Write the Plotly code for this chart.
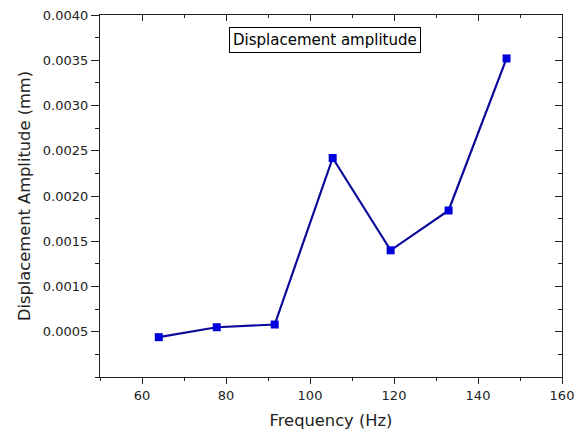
import plotly.graph_objects as go

frequency = [64.0, 77.8, 91.6, 105.4, 119.2, 133.0, 146.8]
amplitude = [0.00044, 0.00055, 0.00058, 0.00242, 0.00140, 0.00184, 0.00352]
x_ticks = [60, 80, 100, 120, 140, 160]
y_ticks = [0.0005, 0.0010, 0.0015, 0.0020, 0.0025, 0.0030, 0.0035, 0.0040]
y_tick_labels = [f"{v:.4f}" for v in y_ticks]
series_name = "Displacement amplitude"

fig = go.Figure()
fig.add_trace(go.Scatter(
    x=frequency, y=amplitude, mode="lines+markers", name=series_name,
    line=dict(color="#0a0a9a", width=2.2),
    marker=dict(symbol="square", size=8, color="#0000dd", line=dict(width=0)),
    showlegend=False,
))
# helper trace for mirrored (inside-tick) axes
fig.add_trace(go.Scatter(x=[frequency[0]], y=[amplitude[0]], xaxis="x2", yaxis="y2",
                         mode="markers", marker=dict(opacity=0), showlegend=False,
                         hoverinfo="skip"))

FONT = "DejaVu Sans, Verdana, sans-serif"
axis_font = dict(family=FONT, size=13, color="#222222")
title_font = dict(family=FONT, size=16.3, color="#222222")

fig.update_layout(
    width=574, height=429,
    margin=dict(l=92, r=20, t=7, b=60, autoexpand=False),
    paper_bgcolor="white", plot_bgcolor="white",
    xaxis=dict(range=[50, 160], tickvals=x_ticks, ticks="outside", ticklen=6,
               tickwidth=1, tickcolor="#222", showline=True, mirror=True,
               linecolor="#222", linewidth=1.3, showgrid=False, zeroline=False,
               tickfont=axis_font, automargin=False, ticklabeloverflow="allow",
               title=dict(text="Frequency (Hz)", font=title_font, standoff=12),
               minor=dict(dtick=10, tick0=50, ticks="outside", ticklen=3,
                          tickcolor="#222", showgrid=False)),
    yaxis=dict(range=[0, 0.004], tickvals=y_ticks, ticktext=y_tick_labels,
               ticks="outside", ticklen=8, tickwidth=1, tickcolor="#222",
               showline=True, mirror=True, linecolor="#222", linewidth=1.3,
               showgrid=False, zeroline=False, tickfont=axis_font, automargin=False,
               ticklabeloverflow="allow",
               title=dict(text="Displacement Amplitude (mm)", font=title_font, standoff=8),
               minor=dict(dtick=0.00025, tick0=0, ticks="outside", ticklen=4,
                          tickcolor="#222", showgrid=False)),
    xaxis2=dict(overlaying="x", side="top", range=[50, 160], tickvals=x_ticks,
                ticks="inside", ticklen=6, tickcolor="#222", showticklabels=False,
                showline=True, linecolor="#222", linewidth=1.3, showgrid=False,
                zeroline=False, automargin=False,
                minor=dict(dtick=10, tick0=50, ticks="inside", ticklen=3,
                           tickcolor="#222", showgrid=False)),
    yaxis2=dict(overlaying="y", side="right", range=[0, 0.004], tickvals=y_ticks,
                ticks="inside", ticklen=7, tickcolor="#222", showticklabels=False,
                showline=True, linecolor="#222", linewidth=1.3, showgrid=False,
                zeroline=False, automargin=False,
                minor=dict(dtick=0.00025, tick0=0, ticks="inside", ticklen=4,
                           tickcolor="#222", showgrid=False)),
    annotations=[dict(text=series_name, xref="paper", yref="paper",
                      x=0.486, y=0.93, xanchor="center", yanchor="middle",
                      showarrow=False, bordercolor="black", borderwidth=1,
                      borderpad=3, bgcolor="white",
                      font=dict(family=FONT, size=15, color="black"))],
)

fig.write_html("out.html")
